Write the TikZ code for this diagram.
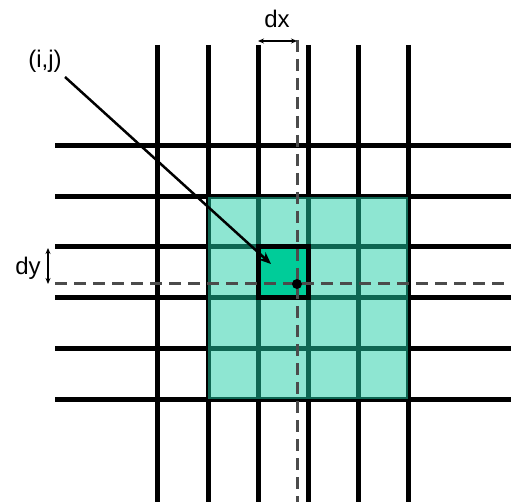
\documentclass[tikz,border=0pt]{standalone}
\usepackage{fontspec}
\setmainfont{Liberation Sans}
\usetikzlibrary{arrows.meta}
\definecolor{ovcol}{RGB}{29,205,165}
\definecolor{cellc}{RGB}{0,204,153}
\definecolor{dashc}{RGB}{75,75,75}
\tikzset{
  gridline/.style={line width=5pt,black},
  guide/.style={line width=3pt,dashc,dash pattern=on 12pt off 7pt},
  lbl/.style={font=\fontsize{24}{28}\selectfont,inner sep=0pt},
  dim/.style={line width=1.2pt,{Stealth[length=6pt,width=5pt]}-{Stealth[length=6pt,width=5pt]}},
}
\begin{document}
\begin{tikzpicture}[x=1pt,y=-1pt]
\useasboundingbox (0,0) rectangle (511,502);
% grid
\foreach \x in {157,208,258,308,358,408}
  \draw[gridline] (\x,45) -- (\x,502);
\foreach \y in {146,197,247,298,348,399}
  \draw[gridline] (55,\y) -- (511,\y);
% overlay square
\fill[ovcol,fill opacity=0.5] (208,197) rectangle (408,399);
% centre cell
\fill[cellc] (258,247) rectangle (308,298);
\draw[line width=5pt,black] (258,247) rectangle (308,298);
% guide lines
\draw[guide] (297,40) -- (297,502);
\draw[guide] (55,284) -- (511,284);
\coordinate (pt) at (297,284);
\fill[black] (pt) circle (5pt);
% dx
\coordinate (dxa) at (258,41);
\coordinate (dxb) at (297,41);
\draw[dim] (dxa) -- (dxb);
\node[lbl] (dx) at (277,19) {dx};
% dy
\coordinate (dya) at (48,248);
\coordinate (dyb) at (48,284);
\draw[dim] (dya) -- (dyb);
\node[lbl] (dy) at (28,268) {dy};
% (i,j)
\node[lbl] (ij) at (45,61) {(i,j)};
\coordinate (ijend) at (271,264);
\draw[line width=2.5pt,-{Stealth[length=12pt,width=10pt,open]}] (65,77) -- (ijend);
\end{tikzpicture}
\end{document}
